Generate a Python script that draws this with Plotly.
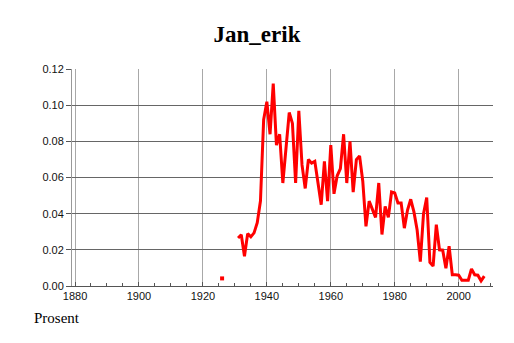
import plotly.graph_objects as go

years = [1926, 1927, 1928, 1929, 1930] + list(range(1931, 2009))
values = [0.0042, None, None, None, None,
          0.0266, 0.0284, 0.0165, 0.0290, 0.0272, 0.0294, 0.0350, 0.0470, 0.0920,
          0.1020, 0.0840, 0.1120, 0.0780, 0.0840, 0.0570, 0.0780, 0.0960, 0.0900, 0.0570,
          0.0970, 0.0670, 0.0540, 0.0700, 0.0680, 0.0690, 0.0570, 0.0450, 0.0690, 0.0470,
          0.0780, 0.0510, 0.0610, 0.0650, 0.0840, 0.0570, 0.0800, 0.0520, 0.0700, 0.0720,
          0.0580, 0.0330, 0.0470, 0.0430, 0.0380, 0.0570, 0.0285, 0.0440, 0.0380, 0.0520,
          0.0515, 0.0460, 0.0460, 0.0320, 0.0420, 0.0480, 0.0410, 0.0310, 0.0135, 0.0400,
          0.0490, 0.0130, 0.0110, 0.0340, 0.0200, 0.0198, 0.0098, 0.0220, 0.0062, 0.0062,
          0.0060, 0.0032, 0.0032, 0.0032, 0.0095, 0.0062, 0.0060, 0.0028, 0.0055]

title_text = "Jan_erik"
y_label = "Prosent"
x_ticks = [1880, 1900, 1920, 1940, 1960, 1980, 2000]
y_ticks = [0.00, 0.02, 0.04, 0.06, 0.08, 0.10, 0.12]

RED = "#ff0000"

# isolated points (no neighbours) need a marker to be visible
iso_x, iso_y = [], []
for i, v in enumerate(values):
    if v is None:
        continue
    prev_none = i == 0 or values[i - 1] is None
    next_none = i == len(values) - 1 or values[i + 1] is None
    if prev_none and next_none:
        iso_x.append(years[i])
        iso_y.append(v)

fig = go.Figure()
fig.add_trace(go.Scatter(x=years, y=values, mode="lines",
                         line=dict(color=RED, width=3), connectgaps=False,
                         hoverinfo="skip", showlegend=False))
fig.add_trace(go.Scatter(x=iso_x, y=iso_y, mode="markers",
                         marker=dict(color=RED, size=4, symbol="square", line=dict(width=0)),
                         hoverinfo="skip", showlegend=False))

tick_font = dict(family="Liberation Sans, Arial, sans-serif", size=11, color="#111")

fig.update_layout(
    width=514, height=343,
    margin=dict(l=72, r=21, t=69, b=57),
    paper_bgcolor="white", plot_bgcolor="white",
    title=dict(text="<b>" + title_text + "</b>", x=0.5, xanchor="center",
               xref="container", yref="container", y=1 - 34 / 343, yanchor="middle",
               font=dict(family="Liberation Serif, Times New Roman, serif", size=23, color="black")),
    xaxis=dict(range=[1879.06, 2010.73], tickvals=x_ticks, ticktext=[str(t) for t in x_ticks],
               showgrid=True, gridcolor="#a8a8a8", gridwidth=1,
               showline=True, linecolor="#555", linewidth=1,
               ticks="inside", ticklen=4, tickcolor="#555",
               minor=dict(dtick=5, tick0=1880, ticks="inside", ticklen=3, tickcolor="#555", showgrid=False),
               zeroline=False, tickfont=tick_font, fixedrange=True),
    yaxis=dict(range=[0, 0.1201], tickvals=y_ticks, ticktext=["%.2f" % t for t in y_ticks],
               showgrid=True, gridcolor="#666", gridwidth=1,
               showline=True, linecolor="#999", linewidth=1,
               ticks="outside", ticklen=5, tickcolor="#555",
               zeroline=False, tickfont=tick_font, fixedrange=True),
    annotations=[dict(text=y_label, xref="paper", yref="paper",
                      x=(32 - 72) / 421, y=-(318 - 286) / 217,
                      xanchor="left", yanchor="middle", showarrow=False,
                      font=dict(family="Liberation Serif, Times New Roman, serif", size=15, color="black"))],
)

fig.write_html("out.html")
